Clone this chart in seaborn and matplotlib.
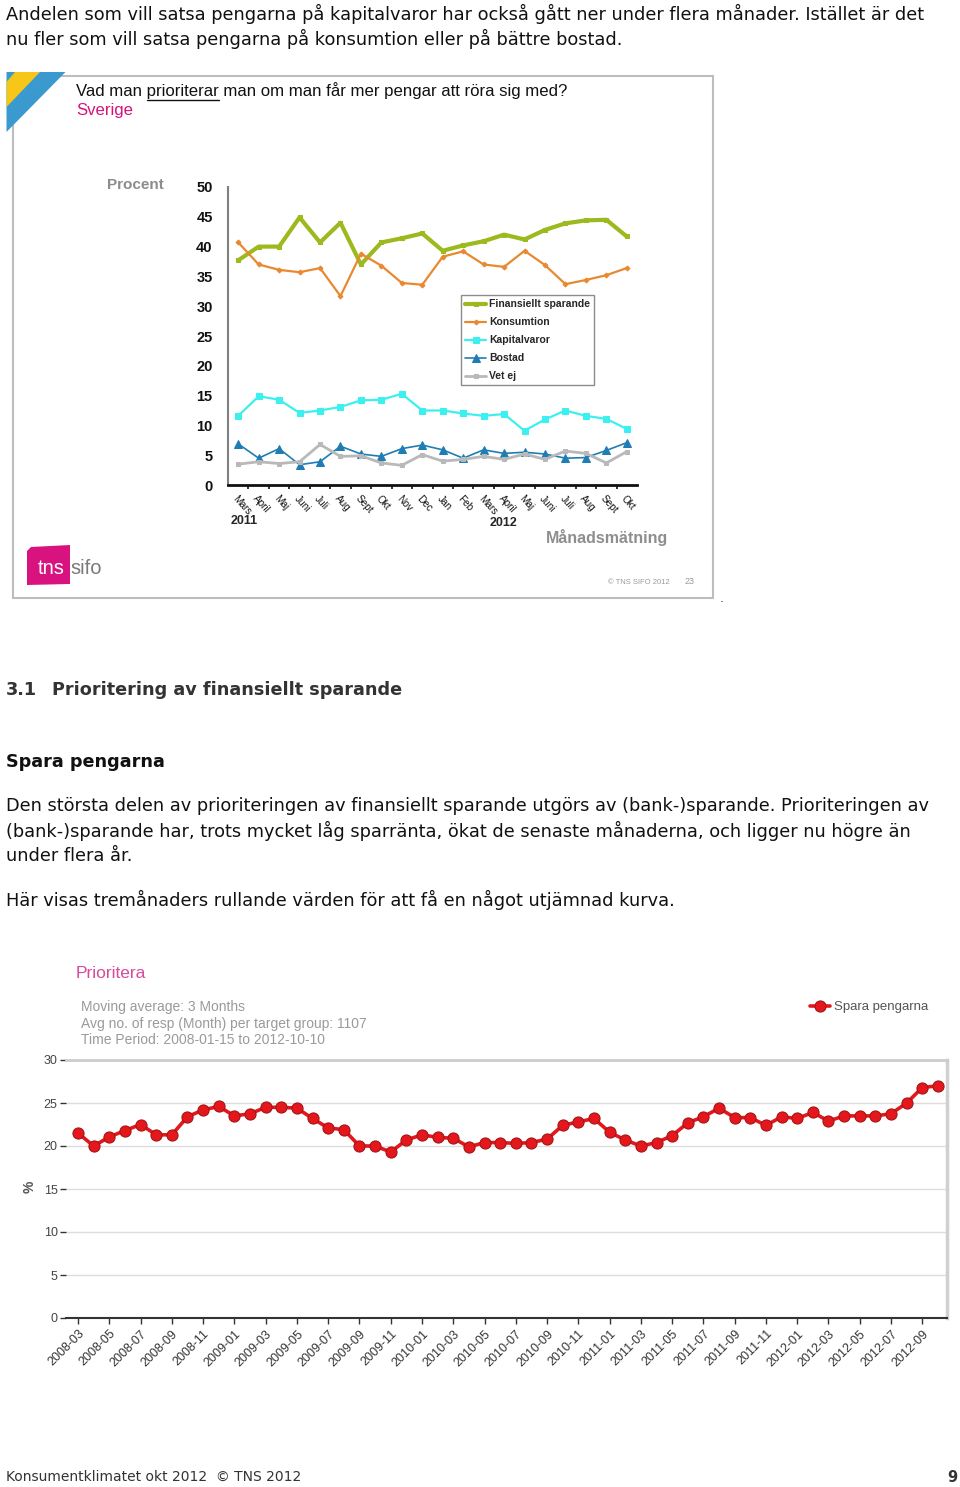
import matplotlib.pyplot as plt
import matplotlib.patches as mpatches
from matplotlib.lines import Line2D
import numpy as np
import pandas as pd
import seaborn as sns

sns.set_theme(style='white')
plt.rcParams['font.family'] = ['DejaVu Sans']

# --- data: top chart (monthly, Mars 2011 - Okt 2012) ---
months_top = ['Mars', 'April', 'Maj', 'Juni', 'Juli', 'Aug', 'Sept', 'Okt', 'Nov', 'Dec',
              'Jan', 'Feb', 'Mars', 'April', 'Maj', 'Juni', 'Juli', 'Aug', 'Sept', 'Okt']
finansiellt = [37.7, 40.0, 40.0, 44.9, 40.7, 44.0, 37.0, 40.7, 41.4, 42.2,
               39.3, 40.2, 40.9, 42.0, 41.2, 42.8, 43.9, 44.4, 44.5, 41.7]
konsumtion = [40.7, 37.0, 36.1, 35.7, 36.4, 31.7, 38.8, 36.8, 33.9, 33.6,
              38.3, 39.2, 37.0, 36.6, 39.3, 36.9, 33.7, 34.4, 35.2, 36.4]
kapitalvaror = [11.6, 14.9, 14.3, 12.1, 12.5, 13.1, 14.2, 14.3, 15.3, 12.5,
                12.5, 12.0, 11.6, 11.9, 9.1, 11.0, 12.5, 11.6, 11.1, 9.4]
bostad = [6.9, 4.5, 6.1, 3.4, 3.9, 6.5, 5.2, 4.8, 6.1, 6.7,
          5.9, 4.5, 5.9, 5.3, 5.5, 5.2, 4.5, 4.6, 5.8, 7.1]
vet_ej = [3.5, 3.9, 3.6, 3.9, 6.8, 4.8, 4.9, 3.7, 3.3, 5.1,
          4.0, 4.3, 4.8, 4.3, 5.2, 4.3, 5.7, 5.3, 3.7, 5.6]
years_top = ['2011', '2012']

# --- data: bottom chart (3-month moving average, 2008-03 - 2012-10) ---
months_bottom = pd.period_range('2008-03', '2012-10', freq='M').strftime('%Y-%m').tolist()
spara = [21.5, 20.0, 21.05, 21.8, 22.5, 21.3, 21.3, 23.4, 24.2, 24.6,
         23.5, 23.75, 24.5, 24.5, 24.4, 23.2, 22.1, 21.9, 20.0, 20.0,
         19.3, 20.7, 21.3, 21.0, 20.9, 19.9, 20.4, 20.4, 20.3, 20.4,
         20.8, 22.4, 22.8, 23.2, 21.6, 20.7, 20.0, 20.4, 21.2, 22.7,
         23.4, 24.4, 23.3, 23.3, 22.4, 23.4, 23.2, 23.9, 22.9, 23.5,
         23.5, 23.5, 23.75, 25.0, 26.8, 27.0]

W, H = 960, 1487
fig = plt.figure(figsize=(9.6, 14.87), dpi=100)
renderer = fig.canvas.get_renderer()


def fx(x):
    return x / W


def fy(y):
    return 1 - y / H


def text(x, y, s, **kw):
    kw.setdefault('va', 'center')
    return fig.text(fx(x), fy(y), s, **kw)


def text_width(s, **kw):
    t = fig.text(0, 0, s, **kw)
    w = t.get_window_extent(renderer).width
    t.remove()
    return w


def poly(pts, color):
    fig.add_artist(mpatches.Polygon([(fx(x), fy(y)) for x, y in pts], closed=True,
                                    transform=fig.transFigure, color=color, lw=0))


body = dict(fontsize=12.8, color='#111111')

# intro text
text(6, 14, 'Andelen som vill satsa pengarna på kapitalvaror har också gått ner under flera månader. Istället är det', **body)
text(6, 39, 'nu fler som vill satsa pengarna på konsumtion eller på bättre bostad.', **body)

# slide frame
fig.add_artist(mpatches.Rectangle((fx(13), fy(598)), (713 - 13) / W, (598 - 76) / H,
                                  transform=fig.transFigure, fill=False,
                                  edgecolor='#BDBDBD', lw=1.5))
poly([(6.5, 72), (65.5, 72), (6.5, 132)], '#3A9AD0')
poly([(15, 72), (40, 72), (6.5, 107), (6.5, 82)], '#F6C619')

q = dict(family='Liberation Sans', fontsize=12.1, color='#111111')
text(76, 91, 'Vad man prioriterar man om man får mer pengar att röra sig med?', **q)
pre = text_width('Vad man .', **q) - text_width('.', **q)
word = text_width('prioriterar', **q)
fig.add_artist(Line2D([fx(76 + pre), fx(76 + pre + word)], [fy(99.5), fy(99.5)],
                      transform=fig.transFigure, color='#111111', lw=1))
text(76, 111, 'Sverige', family='Liberation Sans', fontsize=12.1, color='#D4147C')
text(107, 185, 'Procent', family='Liberation Sans', fontsize=11, fontweight='bold', color='#8C8C8C')

# top chart
ax1 = fig.add_axes([fx(228), fy(485), (637 - 228) / W, (485 - 187) / H])
ax1.set_facecolor('none')
idx_top = np.arange(len(months_top))
top_series = [
    (finansiellt, 'Finansiellt sparande', '#9CBA1E', 's', 3.0, 3.5),
    (konsumtion, 'Konsumtion', '#E9892F', 'D', 1.6, 2.5),
    (kapitalvaror, 'Kapitalvaror', '#3CF0F0', 's', 1.6, 4.5),
    (bostad, 'Bostad', '#1F7DB3', '^', 1.2, 6),
    (vet_ej, 'Vet ej', '#B9B9B9', 's', 2.0, 3.5),
]
for vals, name, col, mk, lw, ms in top_series:
    sns.lineplot(x=idx_top, y=vals, ax=ax1, color=col, marker=mk, lw=lw,
                 markersize=ms, markeredgecolor=col, label=name)
ax1.set_xlim(-0.5, len(months_top) - 0.5)
ax1.set_ylim(0, 50)
ax1.set_yticks(range(0, 51, 5))
ax1.set_yticklabels([str(v) for v in range(0, 51, 5)], fontweight='bold',
                    family='Liberation Sans', fontsize=10.5, color='#111111')
ax1.tick_params(axis='y', length=0, pad=11)
ax1.set_xticks(idx_top)
ax1.set_xticklabels(months_top, rotation=-48, ha='left', va='top', rotation_mode='anchor',
                    family='Liberation Sans', fontsize=7.2, color='#111111')
ax1.tick_params(axis='x', which='major', length=0, pad=6)
# category boundary ticks, as in the original chart
ax1.set_xticks(idx_top[:-1] + 0.5, minor=True)
ax1.tick_params(axis='x', which='minor', bottom=True, length=3, width=1.2, color='#111111')
for s in ['top', 'right']:
    ax1.spines[s].set_visible(False)
ax1.spines['left'].set_color('#7F7F7F')
ax1.spines['left'].set_linewidth(1.5)
ax1.spines['bottom'].set_color('#111111')
ax1.spines['bottom'].set_linewidth(2)
ax1.grid(False)
ax1.set_xlabel('')
ax1.set_ylabel('')
ax1.legend(loc='upper left', bbox_to_anchor=(fx(461), fy(295)), bbox_transform=fig.transFigure,
           borderaxespad=0, frameon=True, fancybox=False, edgecolor='#8C8C8C', framealpha=1,
           prop=dict(family='Liberation Sans', weight='bold', size=7.5),
           handlelength=2.0, handletextpad=0.3, labelspacing=0.77, borderpad=0.4)

text(244, 521, years_top[0], family='Liberation Sans', fontsize=9, fontweight='bold', ha='center')
text(503, 523, years_top[1], family='Liberation Sans', fontsize=9, fontweight='bold', ha='center')
text(668, 537, 'Månadsmätning', family='Liberation Sans', fontsize=11.5, fontweight='bold',
     color='#8E8E8E', ha='right')

# tns sifo logo
poly([(31, 547), (70, 545), (70, 584), (27, 585), (27, 551)], '#D8137F')
text(38, 569, 'tns', family='Liberation Sans', fontsize=14.5, color='white')
text(70, 568, 'sifo', family='Liberation Sans', fontsize=14.5, color='#7A7A7A')
text(670, 582, '© TNS SIFO 2012', family='Liberation Sans', fontsize=5.5, color='#9A9A9A', ha='right')
text(685, 582, '23', family='Liberation Sans', fontsize=6.5, color='#9A9A9A')
text(720, 599, '.', fontsize=9, color='#333333')

# section text
text(6, 690, '3.1', fontsize=12.7, fontweight='bold', color='#333333')
text(52, 690, 'Prioritering av finansiellt sparande', fontsize=12.7, fontweight='bold', color='#333333')
text(6, 762, 'Spara pengarna', fontsize=12.7, fontweight='bold', color='#111111')
text(6, 806, 'Den största delen av prioriteringen av finansiellt sparande utgörs av (bank-)sparande. Prioriteringen av', **body)
text(6, 831, '(bank-)sparande har, trots mycket låg sparränta, ökat de senaste månaderna, och ligger nu högre än', **body)
text(6, 856, 'under flera år.', **body)
text(6, 900, 'Här visas tremånaders rullande värden för att få en något utjämnad kurva.', **body)

# bottom chart
arial = dict(family='Liberation Sans')
text(76, 974, 'Prioritera', fontsize=12.5, color='#D64B9C', **arial)
text(81, 1007, 'Moving average: 3 Months', fontsize=10, color='#9A9A9A', **arial)
text(81, 1024, 'Avg no. of resp (Month) per target group: 1107', fontsize=10, color='#9A9A9A', **arial)
text(81, 1040, 'Time Period: 2008-01-15 to 2012-10-10', fontsize=10, color='#9A9A9A', **arial)
text(30, 1187, '%', fontsize=10, fontweight='bold', color='#555555', rotation=90, ha='center', **arial)

ax2 = fig.add_axes([fx(66), fy(1318), (947 - 66) / W, (1318 - 1060) / H])
idx_bot = np.arange(len(spara))
sns.lineplot(x=idx_bot, y=spara, ax=ax2, color='#E5161C', lw=2.6, marker='o', markersize=8,
             markeredgecolor='#A01818', markeredgewidth=0.8, label='Spara pengarna')
ax2.set_xlim(-0.77, len(spara) - 1 + 0.58)
ax2.set_ylim(0, 30)
ax2.set_yticks(range(0, 31, 5))
ax2.set_yticklabels([str(v) for v in range(0, 31, 5)], fontsize=9, color='#444444', **arial)
ax2.tick_params(axis='y', left=True, length=4, width=1, color='#333333', pad=2)
ax2.set_xticks(idx_bot[::2])
ax2.set_xticklabels(months_bottom[::2], rotation=45, ha='right', va='top', rotation_mode='anchor',
                    fontsize=9, color='#333333', **arial)
ax2.tick_params(axis='x', bottom=True, length=4, width=1, color='#333333', pad=3)
ax2.grid(axis='y', color='#DDDDDD', lw=1)
ax2.grid(axis='x', visible=False)
ax2.spines['left'].set_visible(False)
ax2.spines['top'].set_color('#CCCCCC')
ax2.spines['top'].set_linewidth(2)
ax2.spines['right'].set_color('#D0D0D0')
ax2.spines['right'].set_linewidth(2.5)
ax2.spines['bottom'].set_color('#333333')
ax2.spines['bottom'].set_linewidth(1.5)
ax2.set_xlabel('')
ax2.set_ylabel('')
ax2.legend(loc='center left', bbox_to_anchor=(fx(810), fy(1007)), bbox_transform=fig.transFigure,
           frameon=False, borderaxespad=0, borderpad=0, handlelength=1.5, handletextpad=0.3,
           prop=dict(family='Liberation Sans', size=9.5), labelcolor='#555555')

# footer
text(6, 1477, 'Konsumentklimatet okt 2012  © TNS 2012', fontsize=10, color='#333333')
text(957, 1477, '9', fontsize=10.5, fontweight='bold', color='#333333', ha='right')

fig.savefig('out.png', dpi=100)
